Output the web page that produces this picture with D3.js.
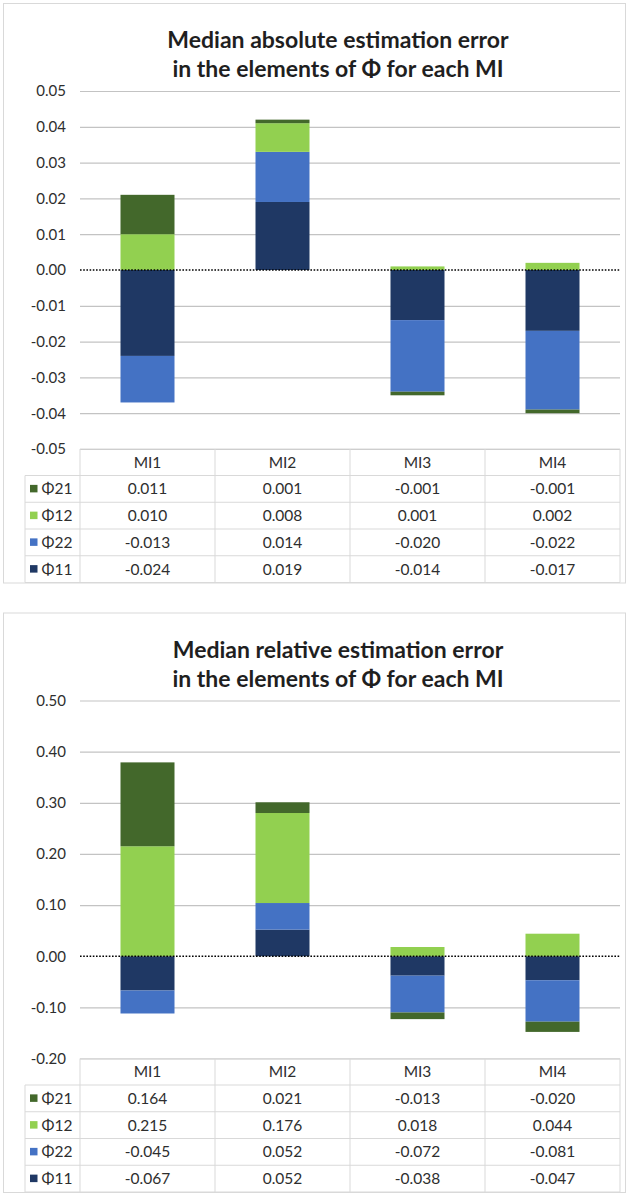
<!DOCTYPE html>
<html>
<head>
<meta charset="utf-8">
<script src="https://cdn.jsdelivr.net/npm/d3@7"></script>
<style>
  html, body { margin: 0; padding: 0; background: #fff; }
  svg { display: block; font-family: Lato, "Open Sans", sans-serif; }
</style>
</head>
<body>
<svg id="chart" width="636" height="1197"></svg>
<script>
// ---------- data ----------
const categories = ["MI1", "MI2", "MI3", "MI4"];
// stacking order (closest to zero first)
const seriesNames = ["Φ11", "Φ22", "Φ12", "Φ21"];
// table / legend order (top to bottom)
const tableOrder = ["Φ21", "Φ12", "Φ22", "Φ11"];
const seriesColors = ["#1F3864", "#4472C4", "#92D050", "#43682B"];

const absPhi11 = [-0.024, 0.019, -0.014, -0.017];
const absPhi22 = [-0.013, 0.014, -0.020, -0.022];
const absPhi12 = [0.010, 0.008, 0.001, 0.002];
const absPhi21 = [0.011, 0.001, -0.001, -0.001];
const absTicks = [0.05, 0.04, 0.03, 0.02, 0.01, 0.00, -0.01, -0.02, -0.03, -0.04, -0.05];

const relPhi11 = [-0.067, 0.052, -0.038, -0.047];
const relPhi22 = [-0.045, 0.052, -0.072, -0.081];
const relPhi12 = [0.215, 0.176, 0.018, 0.044];
const relPhi21 = [0.164, 0.021, -0.013, -0.020];
const relTicks = [0.50, 0.40, 0.30, 0.20, 0.10, 0.00, -0.10, -0.20];

const absTitle = ["Median absolute estimation error", "in the elements of Φ for each MI"];
const relTitle = ["Median relative estimation error", "in the elements of Φ for each MI"];

// ---------- helpers ----------
const loc = d3.formatLocale({decimal: ".", thousands: ",", grouping: [3], currency: ["$", ""], minus: "-"});
const f2 = loc.format(".2f");
const f3 = loc.format(".3f");

const svg = d3.select("#chart");
const textColor = "#2e2e2e";

function drawChart(offsetY, title, valuesBySeries, ticks) {
  const g = svg.append("g").attr("transform", `translate(0,${offsetY})`);
  const L = {
    boxX: 3.5, boxW: 622, boxH: 579.5,
    plotL: 80, plotR: 620, plotT: 88, plotB: 446,
    headerH: 26.5, rowH: 26.75, legL: 25
  };

  // outer border
  g.append("rect")
    .attr("x", L.boxX).attr("y", 0.5)
    .attr("width", L.boxW).attr("height", L.boxH)
    .attr("fill", "#fff").attr("stroke", "#D9D9D9").attr("stroke-width", 1);

  // title
  g.append("text")
    .attr("x", 338).attr("text-anchor", "middle")
    .attr("font-weight", "bold").attr("font-size", 23).attr("fill", "#1f1f1f")
    .selectAll("tspan").data(title).join("tspan")
    .attr("x", 338).attr("y", (d, i) => 45 + i * 29)
    .text(d => d);

  const y = d3.scaleLinear()
    .domain([d3.min(ticks), d3.max(ticks)])
    .range([L.plotB, L.plotT]);

  const x = d3.scaleBand().domain(categories)
    .range([L.plotL, L.plotR]).paddingInner(0.6).paddingOuter(0.3);
  const col = d3.scaleBand().domain(categories).range([L.plotL, L.plotR]);

  // gridlines + labels
  const axis = d3.axisLeft(y).tickValues(ticks)
    .tickSize(-(L.plotR - L.plotL)).tickPadding(14).tickFormat(f2);
  const ax = g.append("g").attr("transform", `translate(${L.plotL},0)`).call(axis);
  ax.select(".domain").remove();
  ax.selectAll(".tick line")
    .attr("stroke", "#C3C3C3").attr("stroke-width", 1.2)
    .attr("display", d => (d === 0 ? "none" : null));
  ax.selectAll(".tick text")
    .attr("font-size", 15).attr("fill", textColor)
    .attr("font-family", "Lato, sans-serif");

  // stacked bars
  const rows = categories.map((c, i) => {
    const o = {cat: c};
    seriesNames.forEach((s, k) => { o[s] = valuesBySeries[s][i]; });
    return o;
  });
  const stack = d3.stack().keys(seriesNames).offset(d3.stackOffsetDiverging)(rows);
  g.append("g").selectAll("g").data(stack).join("g")
    .attr("fill", (d, i) => seriesColors[i])
    .selectAll("rect").data(d => d).join("rect")
    .attr("x", d => x(d.data.cat))
    .attr("width", x.bandwidth())
    .attr("y", d => y(Math.max(d[0], d[1])))
    .attr("height", d => Math.abs(y(d[0]) - y(d[1])));

  // zero line (dotted)
  g.append("line")
    .attr("x1", L.plotL).attr("x2", L.plotR)
    .attr("y1", y(0)).attr("y2", y(0))
    .attr("stroke", "#000").attr("stroke-width", 1.6)
    .attr("stroke-dasharray", "1.6,1.6");

  // data table
  const t = g.append("g");
  const tTop = L.plotB;
  const rowTop = tTop + L.headerH;
  const tBot = rowTop + L.rowH * tableOrder.length;
  const lc = "#D9D9D9";
  t.append("line").attr("x1", L.plotL).attr("x2", L.plotR)
    .attr("y1", tTop).attr("y2", tTop).attr("stroke", lc);
  d3.range(tableOrder.length + 1).forEach(k => {
    const yy = rowTop + k * L.rowH;
    t.append("line").attr("x1", L.legL).attr("x2", L.plotR)
      .attr("y1", yy).attr("y2", yy).attr("stroke", lc);
  });
  t.append("line").attr("x1", L.legL).attr("x2", L.legL)
    .attr("y1", rowTop).attr("y2", tBot).attr("stroke", lc);
  categories.forEach(c => {
    t.append("line").attr("x1", col(c)).attr("x2", col(c))
      .attr("y1", tTop).attr("y2", tBot).attr("stroke", lc);
  });
  t.append("line").attr("x1", L.plotR).attr("x2", L.plotR)
    .attr("y1", tTop).attr("y2", tBot).attr("stroke", lc);

  t.selectAll(".hdr").data(categories).join("text")
    .attr("x", d => col(d) + col.bandwidth() / 2)
    .attr("y", tTop + L.headerH / 2)
    .attr("dy", "0.35em").attr("text-anchor", "middle")
    .attr("font-size", 15.5).attr("fill", textColor)
    .text(d => d);

  tableOrder.forEach((s, r) => {
    const cy = rowTop + r * L.rowH + L.rowH / 2;
    const k = seriesNames.indexOf(s);
    t.append("rect").attr("x", 30).attr("y", cy - 4)
      .attr("width", 7.5).attr("height", 7.5).attr("fill", seriesColors[k]);
    t.append("text").attr("x", 41.5).attr("y", cy).attr("dy", "0.35em")
      .attr("font-size", 15.5).attr("fill", textColor).text(s);
    categories.forEach((c, i) => {
      t.append("text")
        .attr("x", col(c) + col.bandwidth() / 2).attr("y", cy).attr("dy", "0.35em")
        .attr("text-anchor", "middle")
        .attr("font-size", 15.5).attr("fill", textColor)
        .text(f3(valuesBySeries[s][i]));
    });
  });
}

drawChart(3, absTitle,
  {"Φ11": absPhi11, "Φ22": absPhi22, "Φ12": absPhi12, "Φ21": absPhi21},
  absTicks);
drawChart(612.5, relTitle,
  {"Φ11": relPhi11, "Φ22": relPhi22, "Φ12": relPhi12, "Φ21": relPhi21},
  relTicks);
</script>
</body>
</html>
